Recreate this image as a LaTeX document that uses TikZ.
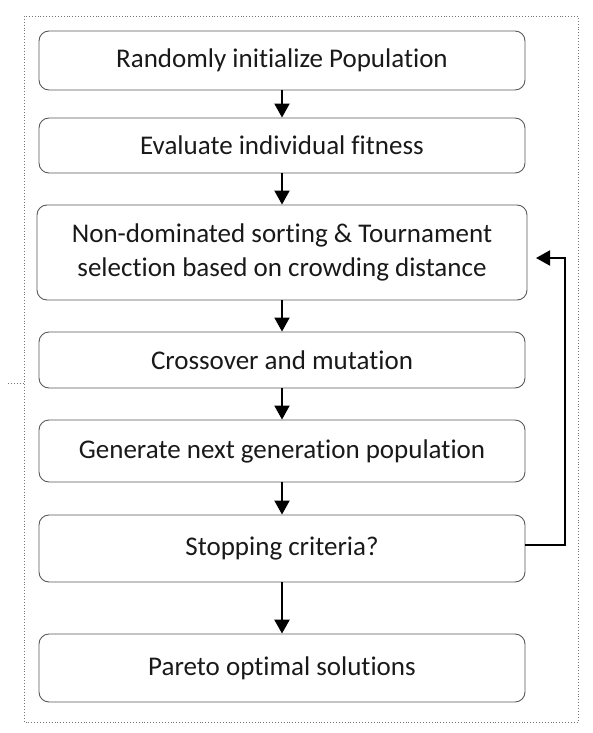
\documentclass[tikz,border=0pt]{standalone}
\usepackage{fontspec}
\setmainfont[Ligatures={NoCommon}]{Carlito}
\usetikzlibrary{arrows.meta}
\begin{document}
\begin{tikzpicture}[x=1pt,y=-1pt,
  stepbox/.style={draw=black!65,line width=0.9pt,rounded corners=10pt,align=center,
    font=\fontsize{27}{34}\selectfont,inner sep=0pt,text=black!90},
  flow/.style={-{Triangle[length=14pt,width=15pt]},line width=2pt},
  frame/.style={draw=black!55,dotted,line width=0.9pt}]
\useasboundingbox (0,0) rectangle (593,733);
\draw[frame] (24,16) rectangle (578,722);
\draw[frame] (8,383) -- (24,383);
\node[stepbox,minimum width=486pt,minimum height=59pt] (b1) at (282,60.5) {Randomly initialize Population};
\node[stepbox,minimum width=486pt,minimum height=55pt] (b2) at (282,145.5) {Evaluate individual fitness};
\node[stepbox,minimum width=490pt,minimum height=95pt] (b3) at (282,252.5) {\raisebox{-5pt}{\begin{tabular}{@{}c@{}}Non-dominated sorting \& Tournament\\[-0.5pt]selection based on crowding distance\end{tabular}}};
\node[stepbox,minimum width=486pt,minimum height=56pt] (b4) at (282,360) {Crossover and mutation};
\node[stepbox,minimum width=486pt,minimum height=62pt] (b5) at (282,451) {Generate next generation population};
\node[stepbox,minimum width=486pt,minimum height=67pt] (b6) at (282,548.5) {Stopping criteria?};
\node[stepbox,minimum width=486pt,minimum height=68pt] (b7) at (282,668) {Pareto optimal solutions};
\coordinate (c1) at (565,545);
\coordinate (c2) at (565,258);
\coordinate (c3) at (536,258);
\draw[flow] (b1) -- (b2);
\draw[flow] (b2) -- (b3);
\draw[flow] (b3) -- (b4);
\draw[flow] (b4) -- (b5);
\draw[flow] (b5) -- (b6);
\draw[flow,line width=2.6pt] (b6) -- (b7);
\draw[flow] (b6.east |- c1) -- (c1) -- (c2) -- (c3);
\end{tikzpicture}
\end{document}
